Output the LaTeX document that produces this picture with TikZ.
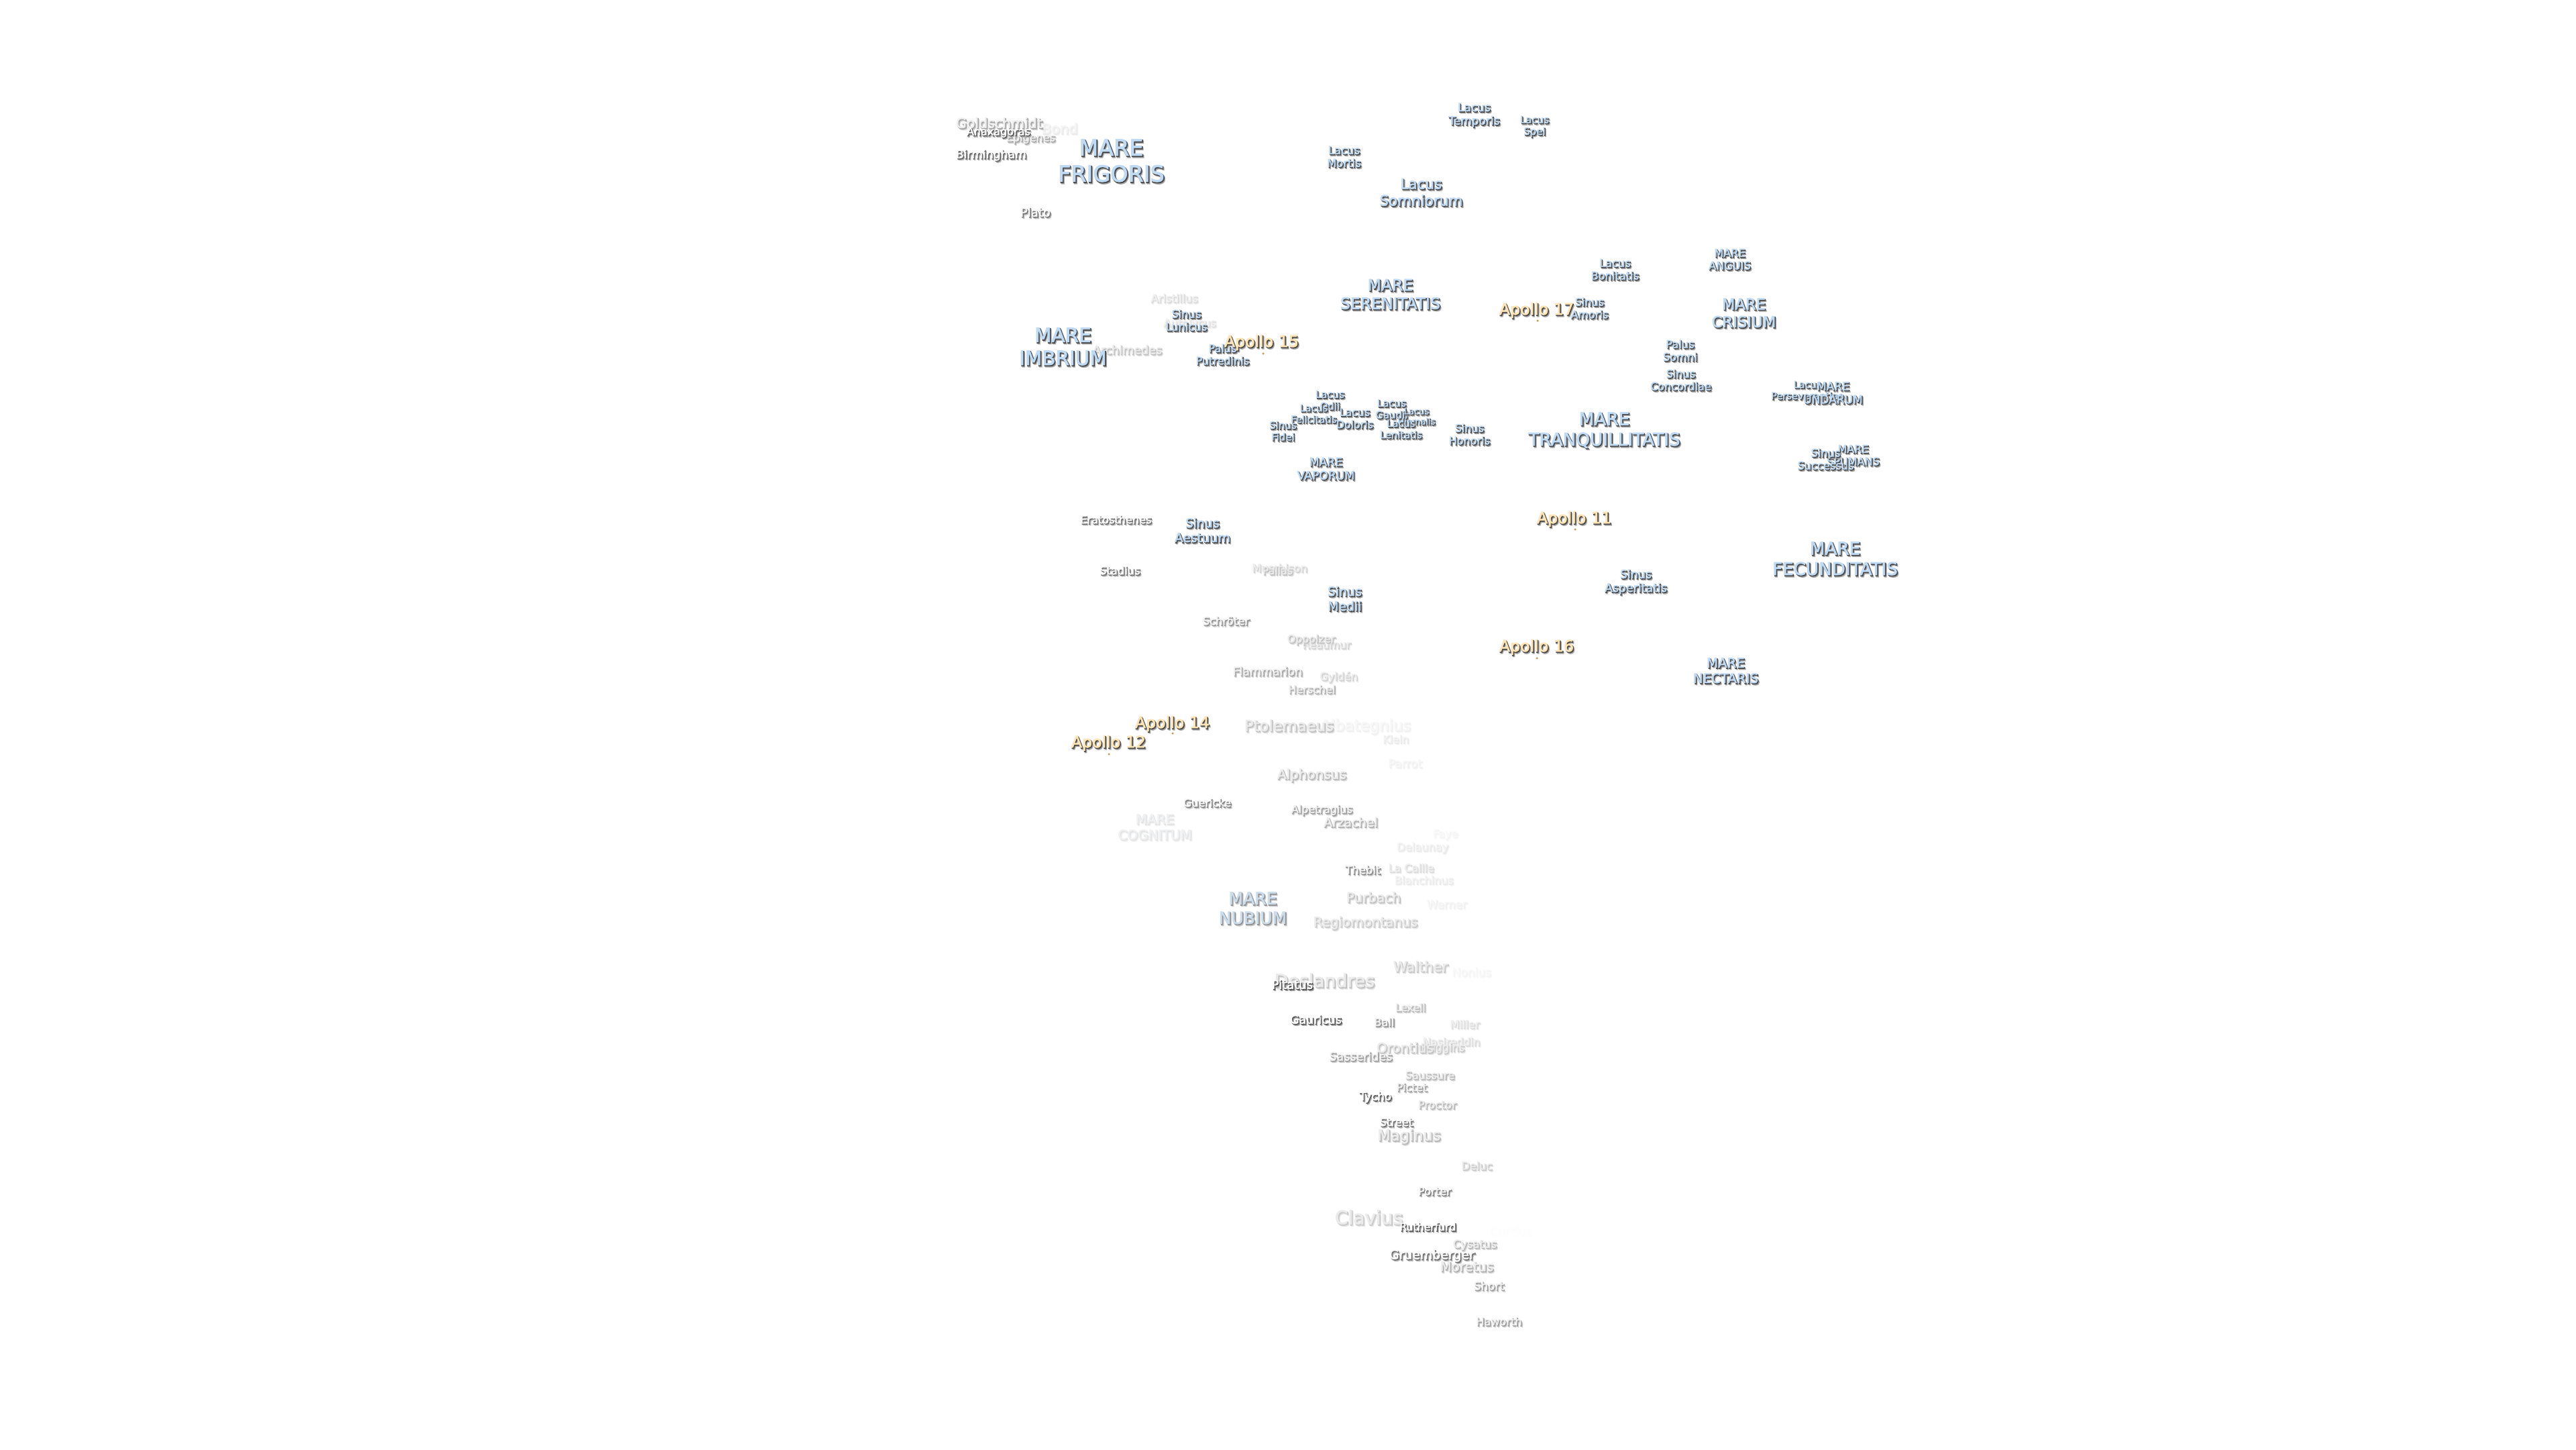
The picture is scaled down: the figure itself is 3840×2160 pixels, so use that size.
\documentclass[tikz,border=0pt]{standalone}
\usepackage{fontspec}
\setmainfont{DejaVu Sans}[FakeBold=2.5]
\newfontfamily\halofont{DejaVu Sans}[FakeBold=5]
\definecolor{kblue}{HTML}{BEDAF4}
\definecolor{kgold}{HTML}{FFE4B4}
\definecolor{kwhite}{HTML}{FFFFFF}
\definecolor{kbase}{HTML}{E0E0E0}
\definecolor{kdark}{HTML}{484848}
\definecolor{kblur}{HTML}{A8A8A8}
\definecolor{kdot}{HTML}{C89A50}
\newcommand{\lst}{\rule[-.14em]{0pt}{1em}}
\newcommand{\nl}{\\\lst}
\tikzset{
  lbl/.style={inner sep=0pt,outer sep=0pt,align=center,anchor=center},
  apdot/.style={circle,fill=kdot,inner sep=0pt,minimum size=3.5pt}
}
% name, x, y, font size, opacity percent, kind, text
\newcommand{\lab}[7]{%
  \pgfmathsetmacro{\lh}{#4*1.164}%
  \pgfmathtruncatemacro{\fadeval}{min(100,#5*3)}%
  \colorlet{cfront}{k#6!#5!kbase}%
  \colorlet{cfinal}{cfront!\fadeval!white}%
  \node[lbl,text={kblur!#5!white},font={\halofont\fontsize{#4}{\lh}\selectfont}] (#1b) at (#2+1.8,#3+2.2) {\lst #7};
  \node[lbl,text={kdark!#5!white},font={\halofont\fontsize{#4}{\lh}\selectfont}] (#1d) at (#2+0.6,#3+0.7) {\lst #7};
  \node[lbl,text=cfinal,font={\fontsize{#4}{\lh}\selectfont}] (#1) at (#2-0.6,#3-0.7) {\lst #7};
}
\begin{document}
\begin{tikzpicture}[x=1pt,y=-1pt]
\useasboundingbox (0,0) rectangle (3840,2160);
% faintest first
\lab{curtius}{2252}{1835}{17.7}{1}{white}{Curtius}
\lab{faye}{2155}{1243}{16}{6}{white}{Faye}
\lab{nonius}{2194}{1449}{17}{6}{white}{Nonius}
\lab{albategnius}{2036}{1082}{22.8}{8}{white}{Albategnius}
\lab{parrot}{2095}{1138}{17}{8}{white}{Parrot}
\lab{werner}{2157}{1348}{16.6}{8}{white}{Werner}
\lab{bond}{1580}{192}{21}{12}{white}{Bond}
\lab{klein}{2081}{1102}{15.8}{12}{white}{Klein}
\lab{delaunay}{2121}{1263}{16.2}{12}{white}{Delaunay}
\lab{blanchinus}{2123}{1312}{16.1}{12}{white}{Blanchinus}
\lab{cognitum}{1722}{1233}{20}{15}{blue}{MARE\nl COGNITUM}
\lab{autolycus}{1774}{482}{16}{18}{white}{Autolycus}
\lab{aristillus}{1751}{445}{16.4}{20}{white}{Aristillus}
\lab{lacaille}{2104}{1294}{16}{20}{white}{La Caille}
\lab{miller}{2184}{1527}{16.2}{20}{white}{Miller}
\lab{nasireddin}{2164}{1553}{16}{20}{white}{Nasireddin}
\lab{murchison}{1908}{847}{16.1}{25}{white}{Murchison}
\lab{reaumur}{1978}{961}{15.8}{25}{white}{Réaumur}
\lab{gylden}{1996}{1009}{16}{25}{white}{Gyldén}
\lab{regiomontanus}{2036}{1375}{19.9}{30}{white}{Regiomontanus}
\lab{walther}{2118}{1441}{21}{30}{white}{Walther}
\lab{huggins}{2151}{1562}{16}{30}{white}{Huggins}
\lab{deluc}{2202}{1738}{16.2}{30}{white}{Deluc}
\lab{clavius}{2041}{1815}{28}{30}{white}{Clavius}
\lab{archimedes}{1681}{522}{17.5}{35}{white}{Archimedes}
\lab{pallas}{1905}{851}{15.7}{35}{white}{Pallas}
\lab{oppolzer}{1955}{953}{15.8}{35}{white}{Oppolzer}
\lab{ptolemaeus}{1922}{1082}{22.7}{35}{white}{Ptolemaeus}
\lab{purbach}{2048}{1338}{19.9}{35}{white}{Purbach}
\lab{deslandres}{1975}{1462}{26.7}{35}{white}{Deslandres}
\lab{orontius}{2095}{1562}{20}{35}{white}{Orontius}
\lab{alphonsus}{1956}{1155}{20}{40}{white}{Alphonsus}
\lab{lexell}{2103}{1502}{15.7}{40}{white}{Lexell}
\lab{saussure}{2132}{1603}{16.1}{40}{white}{Saussure}
\lab{proctor}{2143}{1647}{16}{40}{white}{Proctor}
\lab{maginus}{2101}{1693}{22.5}{40}{white}{Maginus}
\lab{cysatus}{2199}{1855}{16.4}{40}{white}{Cysatus}
\lab{herschel}{1956}{1028}{16}{45}{white}{Herschel}
\lab{arzachel}{2014}{1226}{18.6}{45}{white}{Arzachel}
\lab{moretus}{2187}{1888}{19.8}{45}{white}{Moretus}
\lab{goldschmidt}{1490}{184}{20.5}{50}{white}{Goldschmidt}
\lab{epigenes}{1537}{206}{16}{50}{white}{Epigenes}
\lab{flammarion}{1890}{1001}{17.4}{50}{white}{Flammarion}
\lab{alpetragius}{1971}{1207}{16}{55}{white}{Alpetragius}
\lab{sasserides}{2029}{1575}{17.5}{55}{white}{Sasserides}
\lab{pictet}{2105}{1621}{16.2}{55}{white}{Pictet}
\lab{short}{2220}{1917}{16.8}{55}{white}{Short}
\lab{haworth}{2235}{1970}{16.1}{55}{white}{Haworth}
\lab{nubium}{1868}{1354}{25}{60}{blue}{MARE\nl NUBIUM}
\lab{schroter}{1828}{926}{16.4}{60}{white}{Schröter}
\lab{ball}{2064}{1524}{16.2}{60}{white}{Ball}
\lab{thebit}{2032}{1297}{16.5}{65}{white}{Thebit}
\lab{guericke}{1800}{1197}{16.1}{70}{white}{Guericke}
\lab{porter}{2139}{1776}{16.2}{70}{white}{Porter}
\lab{plato}{1544}{317}{18}{75}{white}{Plato}
\lab{eratosthenes}{1664}{775}{16.1}{80}{white}{Eratosthenes}
\lab{stadius}{1670}{851}{16.3}{80}{white}{Stadius}
\lab{street}{2082}{1673}{16.3}{80}{white}{Street}
\lab{gruemberger}{2135}{1871}{18.9}{80}{white}{Gruemberger}
\lab{birmingham}{1478}{231}{17.2}{85}{white}{Birmingham}
\lab{anaxagoras}{1489}{197}{16}{90}{white}{Anaxagoras}
\lab{tycho}{2051}{1635}{16.8}{90}{white}{Tycho}
\lab{rutherfurd}{2129}{1829}{15.7}{90}{white}{Rutherfurd}
\lab{gauricus}{1962}{1520}{17.4}{95}{white}{Gauricus}
\lab{pitatus}{1927}{1468}{18}{100}{white}{Pitatus}
% lakes, bays, seas
\lab{temporis}{2198}{171}{17}{100}{blue}{Lacus\nl Temporis}
\lab{spei}{2288}{188}{15}{100}{blue}{Lacus\nl Spei}
\lab{mortis}{2004}{234}{16.4}{100}{blue}{Lacus\nl Mortis}
\lab{somniorum}{2119}{287}{21.5}{100}{blue}{Lacus\nl Somniorum}
\lab{frigoris}{1657}{240}{33.4}{100}{blue}{MARE\nl FRIGORIS}
\lab{serenitatis}{2073}{439}{23.6}{100}{blue}{MARE\nl SERENITATIS}
\lab{lunicus}{1769}{478}{16.3}{100}{blue}{Sinus\nl Lunicus}
\lab{imbrium}{1585}{517}{29.5}{100}{blue}{MARE\nl IMBRIUM}
\lab{putredinis}{1823}{529}{16}{100}{blue}{Palus\nl Putredinis}
\lab{bonitatis}{2408}{402}{16.2}{100}{blue}{Lacus\nl Bonitatis}
\lab{anguis}{2579}{387}{16.2}{100}{blue}{MARE\nl ANGUIS}
\lab{crisium}{2600}{467}{22.7}{100}{blue}{MARE\nl CRISIUM}
\lab{somni}{2505}{523}{16.3}{100}{blue}{Palus\nl Somni}
\lab{concordiae}{2506}{567}{16.1}{100}{blue}{Sinus\nl Concordiae}
\lab{perseverantiae}{2695}{582}{14.5}{100}{blue}{Lacus\nl Perseverantiae}
\lab{undarum}{2733}{586}{17}{100}{blue}{MARE\nl UNDARUM}
\lab{tranquillitatis}{2392}{640}{26.3}{100}{blue}{MARE\nl TRANQUILLITATIS}
\lab{spumans}{2763}{679}{16}{100}{blue}{MARE\nl SPUMANS}
\lab{successus}{2722}{685}{16.2}{100}{blue}{Sinus\nl Successus}
\lab{fecunditatis}{2736}{833}{26.2}{100}{blue}{MARE\nl FECUNDITATIS}
\lab{asperitatis}{2439}{867}{17.4}{100}{blue}{Sinus\nl Asperitatis}
\lab{nectaris}{2573}{1000}{19.8}{100}{blue}{MARE\nl NECTARIS}
\lab{odii}{1983}{597}{15}{100}{blue}{Lacus\nl Odii}
\lab{felicitatis}{1959}{617}{14.5}{100}{blue}{Lacus\nl Felicitatis}
\lab{doloris}{2020}{624}{15.8}{100}{blue}{Lacus\nl Doloris}
\lab{gaudii}{2075}{610}{15}{100}{blue}{Lacus\nl Gaudii}
\lab{hiemalis}{2112}{621}{13}{100}{blue}{Lacus\nl Hiemalis}
\lab{lenitatis}{2089}{640}{14.7}{100}{blue}{Lacus\nl Lenitatis}
\lab{fidei}{1913}{643}{15}{100}{blue}{Sinus\nl Fidei}
\lab{honoris}{2191}{648}{16}{100}{blue}{Sinus\nl Honoris}
\lab{vaporum}{1977}{699}{17.2}{100}{blue}{MARE\nl VAPORUM}
\lab{aestuum}{1793}{791}{18.7}{100}{blue}{Sinus\nl Aestuum}
\lab{medii}{2005}{893}{18.9}{100}{blue}{Sinus\nl Medii}
% Apollo sites
\lab{apxv}{1881}{510}{23.7}{100}{gold}{Apollo 15}
\lab{apxvii}{2291}{462}{23.7}{100}{gold}{Apollo 17}
\lab{amoris}{2370}{460}{16}{100}{blue}{Sinus\nl Amoris}
\lab{apxi}{2347}{773}{23.7}{100}{gold}{Apollo 11}
\lab{apxvi}{2291}{964}{23.7}{100}{gold}{Apollo 16}
\lab{apxiv}{1748}{1078}{23.7}{100}{gold}{Apollo 14}
\lab{apxii}{1653}{1107}{23.7}{100}{gold}{Apollo 12}
\node[apdot] (dxv) at (1883,527) {};
\node[apdot] (dxvii) at (2292,478) {};
\node[apdot] (dxi) at (2348,789) {};
\node[apdot] (dxvi) at (2291,981) {};
\node[apdot] (dxiv) at (1748,1093) {};
\node[apdot] (dxii) at (1653,1124) {};
\end{tikzpicture}
\end{document}
